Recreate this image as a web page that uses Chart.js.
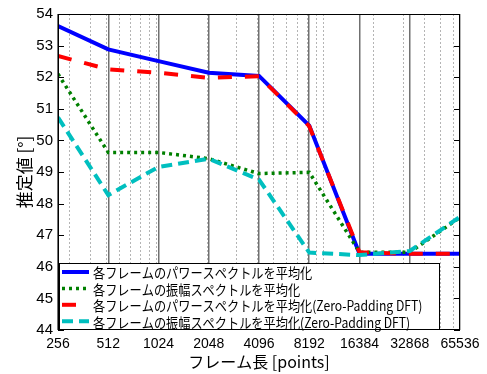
<!DOCTYPE html>
<html>
<head>
<meta charset="utf-8">
<script src="https://cdn.jsdelivr.net/npm/chart.js@4"></script>
<style>
    body { margin: 0; background: #fff; }
</style>
</head>
<body>
<canvas id="grafico" width="487" height="374"></canvas>
<script>
// フレーム長 (32868 はラベルの表記のまま)
const frameLen = [256, 512, 1024, 2048, 4096, 8192, 16384, 32768, 65536]
const frameLabels = ["256", "512", "1024", "2048", "4096", "8192", "16384", "32868", "65536"]
const minorTicks = [300, 400, 500, 600, 700, 800, 900, 1000, 2000, 3000, 4000, 5000, 6000, 7000, 8000, 9000, 10000, 20000, 30000, 40000, 50000, 60000]
const yTicks = [44, 45, 46, 47, 48, 49, 50, 51, 52, 53, 54]

const powerAvg = [53.62, 52.88, 52.51, 52.14, 52.04, 50.47, 46.41, 46.41, 46.41]
const ampAvg = [52.10, 49.62, 49.62, 49.42, 48.95, 48.99, 46.46, 46.46, 47.56]
const powerAvgZp = [52.67, 52.25, 52.14, 51.98, 52.03, 50.45, 46.46, 46.41, 46.41]
const ampAvgZp = [50.73, 48.27, 49.16, 49.42, 48.76, 46.45, 46.37, 46.50, 47.58]

const names = [
    "各フレームのパワースペクトルを平均化",
    "各フレームの振幅スペクトルを平均化",
    "各フレームのパワースペクトルを平均化(Zero-Padding DFT)",
    "各フレームの振幅スペクトルを平均化(Zero-Padding DFT)"
]

const FONT = "'Liberation Sans', 'Noto Sans CJK JP', sans-serif"
const JP = "'Noto Sans CJK JP', sans-serif"

function pontos(vals) {
    return frameLen.map((x, i) => ({x: x, y: vals[i]}))
}

// moldura e marcas internas do eixo y
const quadro = {
    id: "quadro",
    afterDatasetsDraw(chart) {
        const {ctx, chartArea: a, scales} = chart
        ctx.save()
        ctx.strokeStyle = "#000"
        ctx.lineWidth = 1
        ctx.strokeRect(a.left + 0.5, a.top + 0.5, a.right - a.left - 1, a.bottom - a.top - 1)
        ctx.beginPath()
        yTicks.forEach(v => {
            const y = Math.round(scales.y.getPixelForValue(v)) + 0.5
            ctx.moveTo(a.left, y)
            ctx.lineTo(a.left + 6, y)
            ctx.moveTo(a.right - 6, y)
            ctx.lineTo(a.right, y)
        })
        ctx.stroke()
        ctx.restore()
    }
}

// legenda em caixa (estilo gnuplot)
const legenda = {
    id: "legenda",
    afterDraw(chart) {
        const {ctx, chartArea: a} = chart
        const x0 = a.left + 1
        const w = 381
        const h = 67
        const y0 = a.bottom - h
        ctx.save()
        ctx.fillStyle = "#fff"
        ctx.fillRect(x0, y0, w, h)
        ctx.strokeStyle = "#000"
        ctx.lineWidth = 1
        ctx.strokeRect(x0 + 0.5, y0 + 0.5, w - 1, h - 1)
        chart.data.datasets.forEach((ds, i) => {
            const y = y0 + 9 + i * 16.4
            ctx.beginPath()
            ctx.strokeStyle = ds.borderColor
            ctx.lineWidth = ds.borderWidth
            ctx.setLineDash(ds.borderDash || [])
            ctx.moveTo(x0 + 3, y)
            ctx.lineTo(x0 + 30, y)
            ctx.stroke()
            ctx.setLineDash([])
            ctx.fillStyle = "#000"
            ctx.font = "14px " + JP
            ctx.textBaseline = "middle"
            const tw = ctx.measureText(ds.label).width
            ctx.fillText(ds.label, x0 + 34, y + 1, tw * 0.87)
        })
        ctx.restore()
    }
}

new Chart(document.getElementById("grafico"), {
    type: "line",
    data: {
        datasets: [
            {label: names[0], data: pontos(powerAvg), borderColor: "#0000ff", borderWidth: 4, order: 4},
            {label: names[1], data: pontos(ampAvg), borderColor: "#008000", borderWidth: 3.5, borderDash: [3, 4], order: 3},
            {label: names[2], data: pontos(powerAvgZp), borderColor: "#ff0000", borderWidth: 4, borderDash: [14, 13], order: 2},
            {label: names[3], data: pontos(ampAvgZp), borderColor: "#00bfbf", borderWidth: 4, borderDash: [11, 6], order: 1}
        ]
    },
    options: {
        responsive: false,
        animation: false,
        layout: {padding: {left: 0, right: 27, top: 11, bottom: 0}},
        elements: {
            point: {radius: 0},
            line: {tension: 0, fill: false, borderCapStyle: "butt"}
        },
        plugins: {
            legend: {display: false},
            tooltip: {enabled: false}
        },
        scales: {
            x: {
                type: "logarithmic",
                position: "bottom",
                min: 256,
                max: 65536,
                afterBuildTicks: s => { s.ticks = frameLen.map(v => ({value: v})) },
                afterFit: s => { s.height = 44 },
                ticks: {
                    autoSkip: false,
                    maxRotation: 0,
                    padding: 6,
                    color: "#000",
                    font: {family: FONT, size: 14},
                    callback: (v, i) => frameLabels[i]
                },
                grid: {color: "#707070", lineWidth: 1.5, drawTicks: false},
                border: {display: false},
                title: {
                    display: true,
                    text: "フレーム長 [points]",
                    color: "#000",
                    font: {family: JP, size: 16},
                    padding: {top: 0, bottom: 2}
                }
            },
            xm: {
                type: "logarithmic",
                position: "bottom",
                min: 256,
                max: 65536,
                afterBuildTicks: s => { s.ticks = minorTicks.map(v => ({value: v})) },
                afterFit: s => { s.height = 0 },
                ticks: {display: false},
                grid: {color: "#b4b4b4", lineWidth: 1, drawTicks: false},
                border: {display: false, dash: [2, 2]}
            },
            y: {
                min: 44,
                max: 54,
                afterBuildTicks: s => { s.ticks = yTicks.map(v => ({value: v})) },
                afterFit: s => { s.width = 58 },
                ticks: {padding: 5, color: "#000", font: {family: FONT, size: 15}},
                grid: {display: false, drawTicks: false},
                border: {display: false},
                title: {
                    display: true,
                    text: "推定値 [°]",
                    color: "#000",
                    font: {family: JP, size: 17},
                    padding: {top: 14, bottom: 0}
                }
            }
        }
    },
    plugins: [quadro, legenda]
})
</script>
</body>
</html>
